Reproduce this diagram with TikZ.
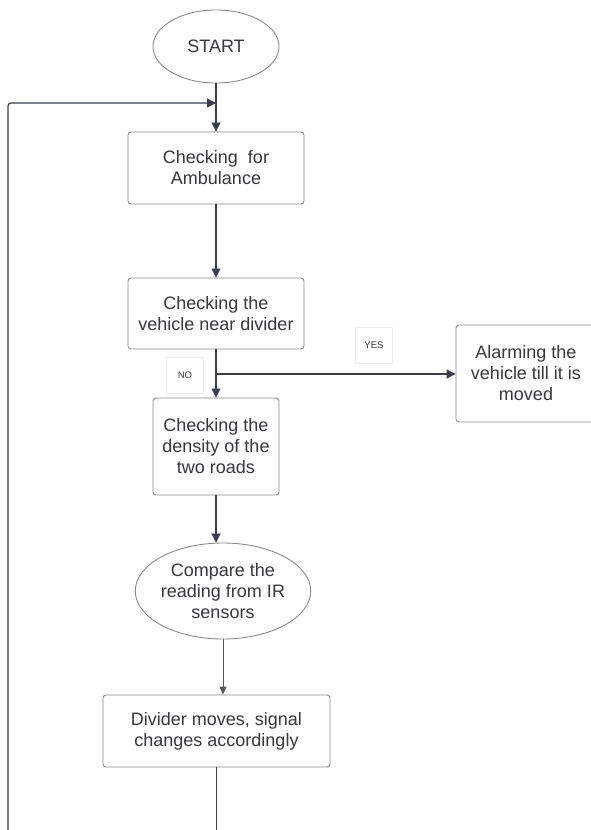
\documentclass[tikz,border=0pt]{standalone}
\usepackage{fontspec}
\setmainfont{Liberation Sans}
\usetikzlibrary{shapes.geometric,arrows.meta}
\definecolor{txt}{HTML}{38383C}
\definecolor{bord}{HTML}{8A8A8A}
\definecolor{arr}{HTML}{3A3E48}
\definecolor{arrl}{HTML}{55585E}
\begin{document}
\begin{tikzpicture}[x=1pt,y=-1pt,
  every node/.style={inner sep=0pt, text=txt, align=center},
  mainfont/.style={font=\fontsize{18}{21}\selectfont},
  stepbox/.style={mainfont, draw=bord, line width=0.9pt, rounded corners=3pt, fill=white},
  oval/.style={mainfont, ellipse, draw=bord, line width=0.9pt, fill=white},
  lab/.style={font=\fontsize{9.5}{11}\selectfont, draw=black!7, line width=0.8pt, fill=white, minimum width=37pt, minimum height=36pt},
  flow/.style={draw=arr, line width=1.2pt, -{Triangle[length=9pt,width=9pt]}},
  flowl/.style={draw=arrl, line width=0.9pt, -{Triangle[length=8pt,width=7pt]}},
  plain/.style={draw=arr, line width=1.2pt}
]
\useasboundingbox (0,0) rectangle (590,830);
\fill[white] (0,0) rectangle (590,830);

\node[oval, minimum width=126pt, minimum height=73pt] (start) at (216,46.5) {START};
\node[stepbox, minimum width=176pt, minimum height=72pt] (b1) at (216,168) {Checking\ \ for\\Ambulance};
\node[stepbox, minimum width=176pt, minimum height=71pt] (b2) at (216,313.5) {Checking the\\vehicle near divider};
\node[stepbox, minimum width=126pt, minimum height=97pt] (b3) at (216,446.5) {Checking the\\density of the\\two roads};
\node[stepbox, minimum width=140pt, minimum height=97pt] (alarm) at (526,373.5) {Alarming the\\vehicle till it is\\moved};
\node[oval, minimum width=164pt, minimum height=96pt] (cmp) at (223,591) {Compare the\\reading from IR\\sensors};
\node[stepbox, minimum width=227pt, minimum height=72pt] (b5) at (216.5,731) {Divider moves, signal\\changes accordingly};

\node[lab] (yes) at (374,345) {YES};
\node[lab] (no) at (185,375) {NO};

\coordinate (join) at (216,103);
\coordinate (loopstart) at (8,830);
\coordinate (branch) at (216,374);
\coordinate (endb) at (216.5,830);

\draw[flow] (start.south) -- (b1.north);
\draw[flow, rounded corners=3pt] (loopstart) |- (join);
\draw[flow] (b1.south) -- (b2.north);
\draw[flow] (b2.south) -- (b3.north);
\draw[flow] (branch) -- (alarm.west |- branch);
\draw[flow] (b3.south) -- (b3.south |- cmp.north);
\draw[flowl] (cmp.south) -- (cmp.south |- b5.north);
\draw[plain] (b5.south) -- (endb);
\end{tikzpicture}
\end{document}
